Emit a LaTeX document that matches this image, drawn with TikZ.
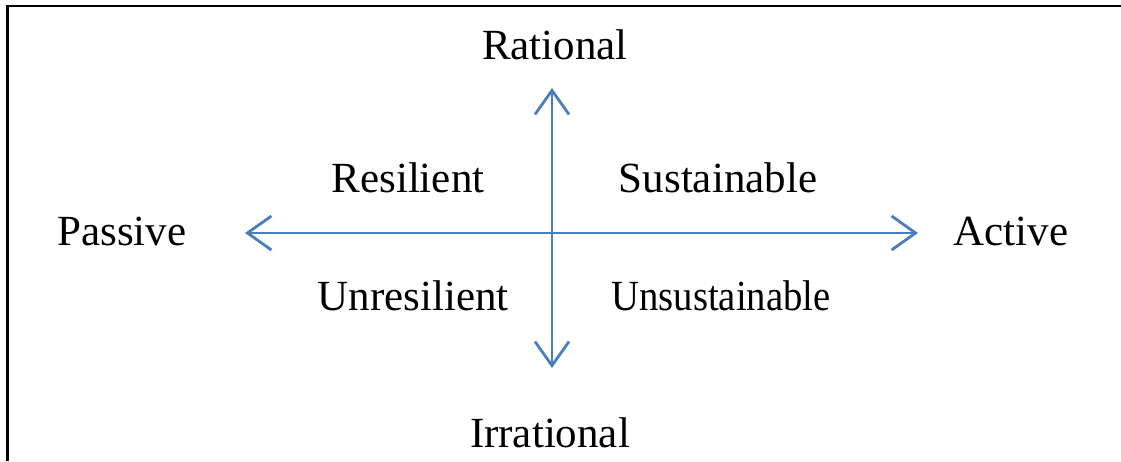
\documentclass[tikz,border=0pt]{standalone}
\usepackage{fontspec}
\setmainfont{Liberation Serif}
\usetikzlibrary{arrows.meta}
\definecolor{axisblue}{HTML}{4A7EBB}
\begin{document}
\begin{tikzpicture}[x=1pt,y=-1pt,
  lbl/.style={font=\fontsize{43}{50}\selectfont, inner sep=0pt, anchor=base},
  axis/.style={draw=axisblue, line width=2.8pt, -{Straight Barb[length=24pt,width=34pt,line width=2.8pt]}},
  frame/.style={draw=black, line width=2.6pt}]
\useasboundingbox (0,0) rectangle (1121,461);
\draw[frame] (7.5,461) -- (7.5,6) -- (1121,6);
\coordinate (c) at (552,233);
\coordinate (top) at (552,88);
\coordinate (bot) at (552,368);
\coordinate (lft) at (245,233);
\coordinate (rgt) at (918,233);
\draw[axis] (c) -- (top);
\draw[axis] (c) -- (bot);
\draw[axis] (c) -- (lft);
\draw[axis] (c) -- (rgt);
\node[lbl] (rat) at (555,59) {Rational};
\node[lbl] (irr) at (550,447) {Irrational};
\node[lbl] (pas) at (122,245) {Passive};
\node[lbl] (act) at (1011,245) {Active};
\node[lbl] (res) at (408,192) {Resilient};
\node[lbl] (sus) at (718,192) {Sustainable};
\node[lbl] (unr) at (413,310) {Unresilient};
\node[lbl, xscale=0.9] (uns) at (721,310) {Unsustainable};
\end{tikzpicture}
\end{document}
